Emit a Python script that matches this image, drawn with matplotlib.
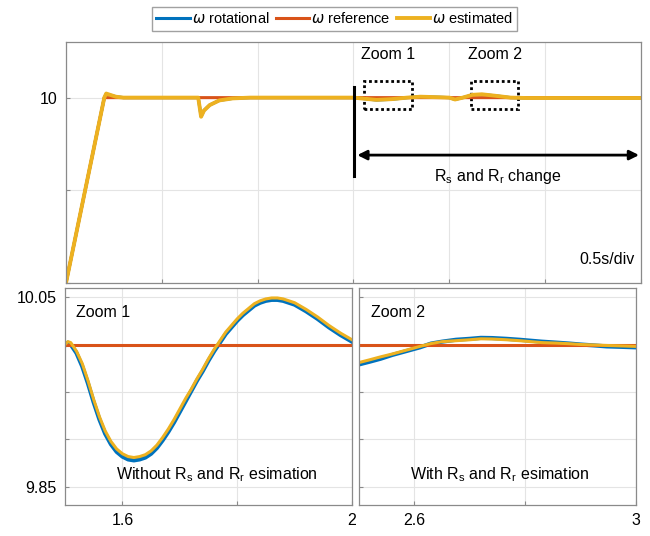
import matplotlib
matplotlib.use("Agg")
import matplotlib.pyplot as plt
from matplotlib.patches import Rectangle

plt.rcParams['font.family'] = ['Liberation Sans', 'DejaVu Sans']
plt.rcParams['mathtext.fontset'] = 'dejavusans'

C_ROT = '#0072BD'
C_REF = '#D95319'
C_EST = '#EDB120'

# ---- top plot data (time in s, speed) ----
top_time = [0, 0.2, 0.21, 0.23, 0.26, 0.3, 0.69, 0.705, 0.72, 0.75, 0.8, 0.87, 0.96,
            1.5, 1.55, 1.62, 1.7, 1.78, 1.85, 1.95, 2.0, 2.03, 2.07, 2.12, 2.17, 2.24,
            2.32, 2.4, 3.0]
top_est = [0, 10.0, 10.22, 10.15, 10.05, 10.0, 10.0, 8.97, 9.3, 9.6, 9.85, 9.96, 10.0,
           10.0, 9.95, 9.88, 9.92, 10.0, 10.05, 10.02, 10.0, 9.9, 10.0, 10.15, 10.18, 10.1,
           10.0, 9.98, 9.98]
top_rot = [0, 10.0, 10.2, 10.14, 10.05, 10.0, 10.0, 8.99, 9.31, 9.6, 9.85, 9.96, 10.0,
           10.0, 9.95, 9.87, 9.91, 10.0, 10.05, 10.02, 10.0, 9.9, 10.0, 10.14, 10.17, 10.1,
           10.0, 9.98, 9.98]
ref_time = [0, 0.2, 3.0]
ref_val = [0, 10.0, 10.0]

# ---- zoom 1 data ----
z1_time = [1.50, 1.505, 1.51, 1.52, 1.53, 1.54, 1.55, 1.56, 1.57, 1.58, 1.59, 1.60,
           1.61, 1.62, 1.63, 1.64, 1.65, 1.66, 1.67, 1.68, 1.69, 1.70, 1.71, 1.72,
           1.73, 1.74, 1.75, 1.76, 1.77, 1.78, 1.79, 1.80, 1.81, 1.82, 1.83, 1.84,
           1.85, 1.86, 1.87, 1.88, 1.89, 1.90, 1.92, 1.94, 1.96, 1.98, 2.00]
z1_est = [10.000, 10.003, 10.002, 9.993, 9.980, 9.962, 9.942, 9.924, 9.909, 9.898,
          9.890, 9.885, 9.882, 9.881, 9.882, 9.884, 9.888, 9.894, 9.902, 9.911, 9.921,
          9.932, 9.943, 9.953, 9.964, 9.974, 9.985, 9.995, 10.004, 10.013, 10.020,
          10.027, 10.033, 10.038, 10.043, 10.046, 10.048, 10.049, 10.049, 10.048,
          10.046, 10.044, 10.037, 10.029, 10.020, 10.012, 10.005]
z1_rot = [9.999, 10.002, 10.000, 9.991, 9.977, 9.959, 9.939, 9.921, 9.906, 9.895,
          9.887, 9.882, 9.879, 9.878, 9.879, 9.881, 9.885, 9.891, 9.899, 9.908, 9.918,
          9.929, 9.940, 9.951, 9.962, 9.972, 9.983, 9.993, 10.002, 10.011, 10.018,
          10.025, 10.031, 10.036, 10.041, 10.044, 10.046, 10.047, 10.047, 10.046,
          10.044, 10.042, 10.035, 10.027, 10.018, 10.010, 10.003]

# ---- zoom 2 data ----
z2_time = [2.5, 2.52, 2.539, 2.56, 2.585, 2.61, 2.63, 2.65, 2.675, 2.70, 2.72, 2.74,
           2.766, 2.79, 2.81, 2.83, 2.856, 2.88, 2.90, 2.925, 2.947, 2.975, 3.0]
z2_est = [9.981, 9.984, 9.987, 9.990, 9.994, 9.998, 10.001, 10.003, 10.004, 10.005,
          10.006, 10.0058, 10.005, 10.004, 10.003, 10.002, 10.0015, 10.0008, 10.0,
          9.9995, 9.999, 9.9985, 9.998]
z2_rot = [9.979, 9.982, 9.985, 9.989, 9.993, 9.997, 10.001, 10.003, 10.005, 10.006,
          10.007, 10.0068, 10.006, 10.005, 10.004, 10.003, 10.002, 10.001, 10.0,
          9.999, 9.998, 9.9975, 9.997]

LW = 2.2
GRID = '#e4e4e4'
SPINE = '#8a8a8a'
FS = 11.5

fig = plt.figure(figsize=(6.5, 5.36), dpi=100)

def style(ax):
    for s in ax.spines.values():
        s.set_color(SPINE)
        s.set_linewidth(0.9)
    ax.tick_params(direction='in', length=3, color=SPINE, labelsize=FS, pad=6)
    ax.grid(True, color=GRID, linewidth=0.8)
    ax.set_axisbelow(True)

# ---- top axes ----
ax = fig.add_axes([0.1015, 0.472, 0.8846, 0.4496])
style(ax)
l1, = ax.plot(top_time, top_rot, color=C_ROT, lw=LW)
l2, = ax.plot(ref_time, ref_val, color=C_REF, lw=LW)
l3, = ax.plot(top_time, top_est, color=C_EST, lw=LW + 0.6)
ax.set_xlim(0, 3)
ax.set_ylim(0, 13)
ax.set_xticks([0, 0.5, 1, 1.5, 2, 2.5, 3])
ax.set_xticklabels([])
ax.set_yticks([0, 5, 10])
ax.set_yticklabels(['', '', '10'])

ax.plot([1.502, 1.502], [5.78, 10.56], color='black', lw=2.2)
ax.annotate('', xy=(2.99, 6.9), xytext=(1.52, 6.9),
            arrowprops=dict(arrowstyle='<|-|>', color='black', lw=2.0,
                            mutation_scale=14, shrinkA=0, shrinkB=0))
ax.text(2.25, 5.75, r'R$_\mathregular{s}$ and R$_\mathregular{r}$ change',
        ha='center', va='center', fontsize=FS)
ax.text(2.965, 1.25, '0.5s/div', ha='right', va='center', fontsize=FS)
for x0, x1, lab in [(1.557, 1.806, 'Zoom 1'), (2.114, 2.358, 'Zoom 2')]:
    ax.add_patch(Rectangle((x0, 9.39), x1 - x0, 1.51, fill=False, ec='black',
                           lw=2.0, ls=(0, (1, 1))))
    ax.text((x0 + x1) / 2, 12.3, lab, ha='center', va='center', fontsize=FS)

fig.legend([l1, l2, l3],
           [r'$\omega$ rotational', r'$\omega$ reference', r'$\omega$ estimated'],
           loc='center', bbox_to_anchor=(0.515, 0.9646), ncol=3, fontsize=10.5,
           frameon=True, fancybox=False, edgecolor=SPINE, handlelength=2.3,
           handletextpad=0.15, columnspacing=0.4, borderpad=0.3, borderaxespad=0)

# ---- zoom 1 axes ----
a1 = fig.add_axes([0.1, 0.0578, 0.4415, 0.4049])
style(a1)
a1.plot(z1_time, z1_rot, color=C_ROT, lw=LW + 0.8)
a1.plot([1.5, 2.0], [10.0, 10.0], color=C_REF, lw=LW)
a1.plot(z1_time, z1_est, color=C_EST, lw=LW)
a1.set_xlim(1.5, 2.0)
a1.set_ylim(9.831, 10.0595)
a1.set_xticks([1.6, 1.8, 2.0])
a1.set_xticklabels(['1.6', '', '2'])
a1.set_yticks([9.85, 9.9, 9.95, 10.0, 10.05])
a1.set_yticklabels(['9.85', '', '', '', '10.05'])
a1.text(0.04, 0.885, 'Zoom 1', transform=a1.transAxes, ha='left', va='center', fontsize=FS)
a1.text(0.53, 0.14, r'Without R$_\mathregular{s}$ and R$_\mathregular{r}$ esimation',
        transform=a1.transAxes, ha='center', va='center', fontsize=FS)

# ---- zoom 2 axes ----
a2 = fig.add_axes([0.5523, 0.0578, 0.4262, 0.4049])
style(a2)
a2.plot(z2_time, z2_rot, color=C_ROT, lw=LW + 0.8)
a2.plot([2.5, 3.0], [10.0, 10.0], color=C_REF, lw=LW)
a2.plot(z2_time, z2_est, color=C_EST, lw=LW)
a2.set_xlim(2.5, 3.0)
a2.set_ylim(9.831, 10.0595)
a2.set_xticks([2.6, 2.8, 3.0])
a2.set_xticklabels(['2.6', '', '3'])
a2.set_yticks([9.85, 9.9, 9.95, 10.0, 10.05])
a2.set_yticklabels([])
a2.text(0.045, 0.885, 'Zoom 2', transform=a2.transAxes, ha='left', va='center', fontsize=FS)
a2.text(0.51, 0.14, r'With R$_\mathregular{s}$ and R$_\mathregular{r}$ esimation',
        transform=a2.transAxes, ha='center', va='center', fontsize=FS)

fig.savefig('out.png', dpi=100)
